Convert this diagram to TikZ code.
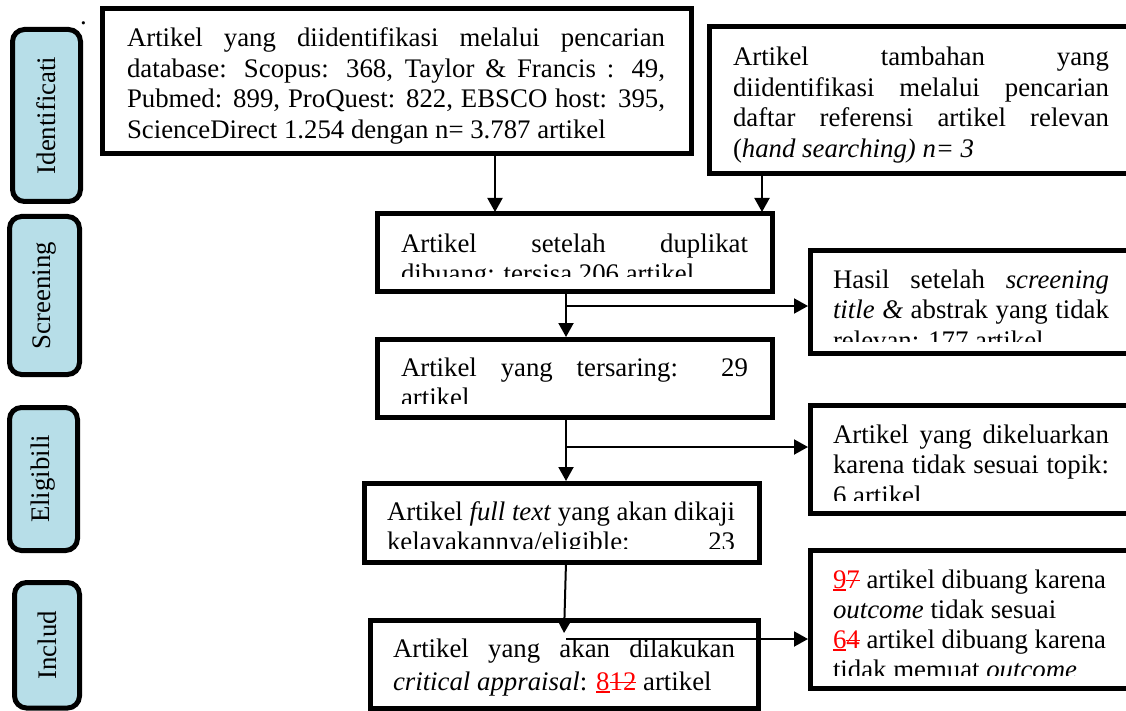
\documentclass[tikz,border=0pt]{standalone}
\usepackage{fontspec}
\setmainfont{Liberation Serif}
\usetikzlibrary{arrows.meta,fit}
\definecolor{stagefill}{RGB}{183,222,232}
\newsavebox{\mkbox}
\newcommand{\jus}[2]{\makebox[#1][s]{#2}}
\newcommand{\undl}[1]{\sbox{\mkbox}{#1}\rlap{\rule[-0.11em]{\wd\mkbox}{1.5pt}}\usebox{\mkbox}}
\newcommand{\strk}[1]{\sbox{\mkbox}{#1}\rlap{\rule[0.25em]{\wd\mkbox}{1.5pt}}\usebox{\mkbox}}
\newcommand{\rd}[2]{\textcolor{red}{\undl{#1}\strk{#2}}}
\begin{document}
\begin{tikzpicture}[x=1pt,y=-1pt,
  every node/.style={inner sep=0pt, outer sep=0pt, font=\fontsize{26.8}{30.5}\selectfont},
  box/.style={draw, line width=5pt},
  border/.style={line width=5pt},
  stage/.style={draw, line width=5pt, fill=stagefill, rounded corners=12pt},
  stagetxt/.style={rotate=90},
  ln/.style={anchor=base west},
  arr/.style={line width=2pt, shorten >=2pt, -{Triangle[length=14pt,width=15pt]}}]

\useasboundingbox (0,0) rectangle (1126,711);

% stage boxes
\node[stage, fit={(12.5,29.5) (80.5,201.5)}] (s1) {};
\node[stage, fit={(9.5,216.5) (79.5,374.5)}] (s2) {};
\node[stage, fit={(9.5,407.5) (77.5,550.5)}] (s3) {};
\node[stage, fit={(14.5,582.5) (79.5,708)}] (s4) {};
\node[stagetxt] (s1t) at (s1.center) {Identificati};
\node[stagetxt] (s2t) at (s2.center) {Screening};
\node[stagetxt] (s3t) at (s3.center) {Eligibili};
\node[stagetxt] (s4t) at (s4.center) {Includ};
\node[ln] (dot) at (80,24.5) {.};

% main boxes
\node[box, fit={(102,9) (691,154)}] (A) {};
\node[fit={(709,27) (1126,174)}] (B) {};
\draw[border] (B.north east) -- (B.north west) -- (B.south west) -- (B.south east);
\node[box, fit={(377,214) (772,291)}] (C) {};
\node[box, fit={(377,339) (772,417)}] (D) {};
\node[fit={(810,251) (1126,353)}] (E) {};
\draw[border] (E.north east) -- (E.north west) -- (E.south west) -- (E.south east);
\node[box, fit={(364,483) (759,562)}] (F) {};
\node[fit={(810,405) (1126,513)}] (G) {};
\draw[border] (G.north east) -- (G.north west) -- (G.south west) -- (G.south east);
\node[box, fit={(370,620) (758,708)}] (H) {};
\node[fit={(810,550) (1126,688)}] (I) {};
\draw[border] (I.north east) -- (I.north west) -- (I.south west) -- (I.south east);

% texts
\node[ln] (a1) at (127,47) {\jus{538pt}{Artikel yang diidentifikasi melalui pencarian}};
\node[ln] (a2) at (127,77.5) {\jus{538pt}{database: Scopus: 368, Taylor \& Francis : 49,}};
\node[ln] (a3) at (127,108) {\jus{538pt}{Pubmed: 899, ProQuest: 822, EBSCO host: 395,}};
\node[ln] (a4) at (127,138.5) {ScienceDirect 1.254 dengan n= 3.787 artikel};

\node[ln] (b1) at (733,66) {\jus{376pt}{Artikel tambahan yang}};
\node[ln] (b2) at (733,96.5) {\jus{376pt}{diidentifikasi melalui pencarian}};
\node[ln] (b3) at (733,127) {\jus{376pt}{daftar referensi artikel relevan}};
\node[ln] (b4) at (733,157.5) {(\textit{hand searching) n= 3}};

\begin{scope}
\clip (380,217) rectangle (770,276);
\node[ln] (c1) at (401,252) {\jus{347pt}{Artikel setelah duplikat}};
\node[ln] (c2) at (401,282.5) {dibuang: tersisa 206 artikel};
\end{scope}

\begin{scope}
\clip (380,342) rectangle (770,403);
\node[ln] (d1) at (401,376) {\jus{347pt}{Artikel yang tersaring: 29}};
\node[ln] (d2) at (401,406.5) {artikel};
\end{scope}

\begin{scope}
\clip (813,254) rectangle (1126,341);
\node[ln] (e1) at (833,288) {\jus{276pt}{Hasil setelah \textit{screening}}};
\node[ln] (e2) at (833,318.5) {\jus{276pt}{\textit{title \&} abstrak yang tidak}};
\node[ln] (e3) at (833,349) {relevan: 177 artikel};
\end{scope}

\begin{scope}
\clip (813,408) rectangle (1126,500);
\node[ln] (g1) at (833,443) {\jus{276pt}{Artikel yang dikeluarkan}};
\node[ln] (g2) at (833,473.5) {\jus{276pt}{karena tidak sesuai topik:}};
\node[ln] (g3) at (833,504) {6 artikel};
\end{scope}

\begin{scope}
\clip (367,486) rectangle (756,548);
\node[ln] (f1) at (387,520) {\jus{348pt}{Artikel \textit{full text} yang akan dikaji}};
\node[ln] (f2) at (387,550.5) {\jus{348pt}{kelayakannya/eligible: 23}};
\end{scope}

\node[ln] (h1) at (393,657) {\jus{342pt}{Artikel yang akan dilakukan}};
\node[ln] (h2) at (393,690) {\textit{critical appraisal}: \rd{8}{12} artikel};

\begin{scope}
\clip (813,553) rectangle (1126,675);
\node[ln] (i1) at (833,588) {\rd{9}{7} artikel dibuang karena};
\node[ln] (i2) at (833,618) {\textit{outcome} tidak sesuai};
\node[ln] (i3) at (833,648) {\rd{6}{4} artikel dibuang karena};
\node[ln] (i4) at (833,678) {tidak memuat \textit{outcome}};
\end{scope}

% connectors
\coordinate (xa) at (495,0);
\coordinate (xb) at (762,0);
\coordinate (xm) at (566,0);
\coordinate (bE) at (566,306);
\coordinate (bG) at (566,447);
\coordinate (bI) at (566,639);
\coordinate (hTip) at (564,635);

\draw[arr] (A.south -| xa) -- (C.north -| xa);
\draw[arr] (B.south -| xb) -- (C.north -| xb);
\draw[arr] (C.south -| xm) -- (D.north -| xm);
\draw[arr] (bE) -- (bE -| E.west);
\draw[arr] (D.south -| xm) -- (F.north -| xm);
\draw[arr] (bG) -- (bG -| G.west);
\draw[arr] (F.south -| xm) -- (hTip);
\draw[arr] (bI) -- (bI -| I.west);
\end{tikzpicture}
\end{document}
